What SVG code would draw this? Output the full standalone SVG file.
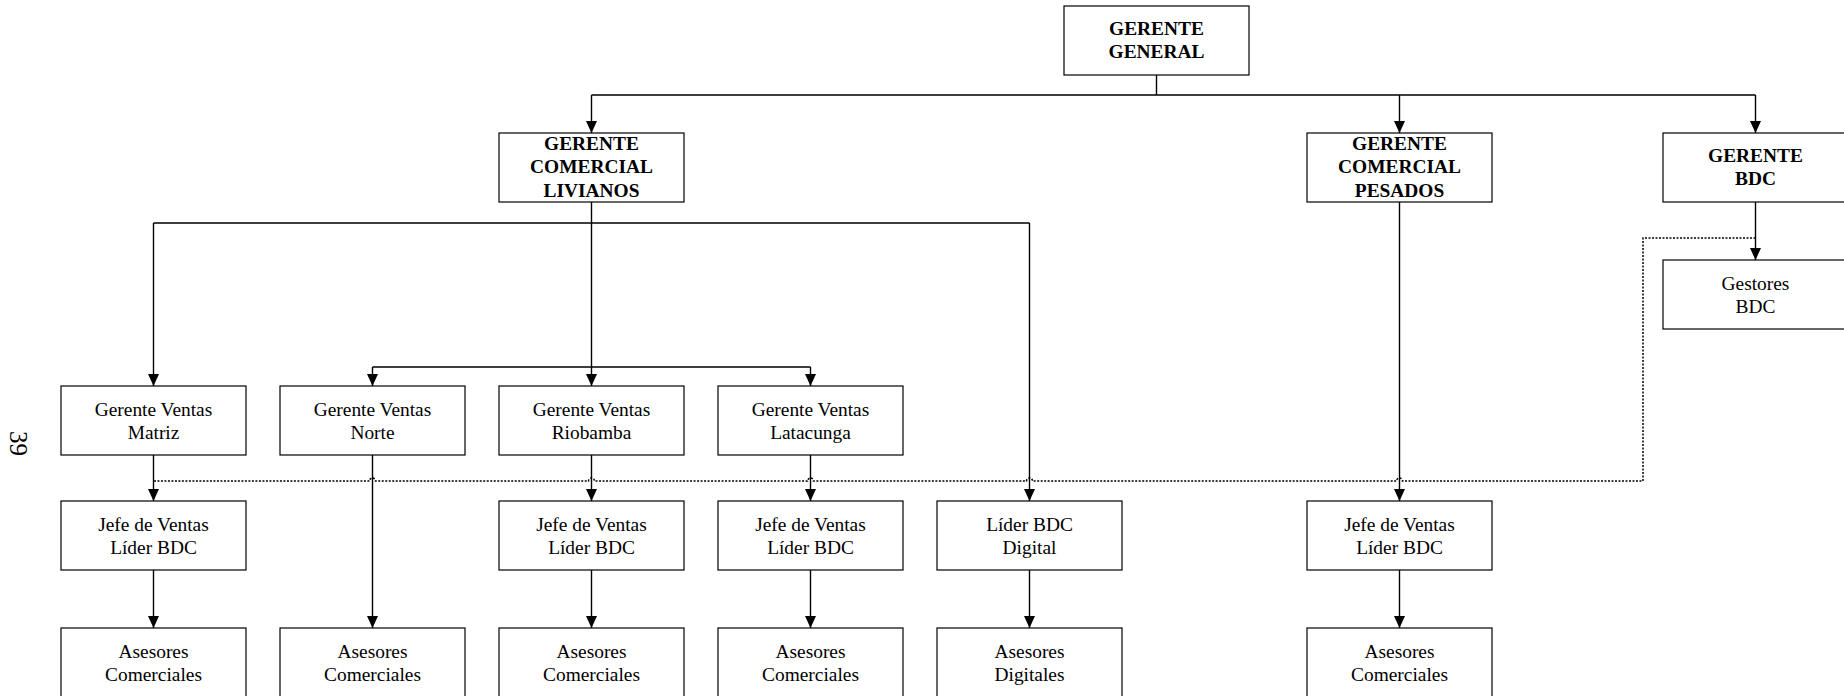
<svg xmlns="http://www.w3.org/2000/svg" width="1844" height="696" viewBox="0 0 1844 696">
  <defs>
    <marker id="arrow" markerUnits="userSpaceOnUse" markerWidth="12" markerHeight="12" refX="12" refY="6" orient="auto">
      <path d="M0,0.5 L12,6 L0,11.5 Z" fill="#000"/>
    </marker>
    <style>
      .box { fill: #fff; stroke: #000; stroke-width: 1.2; }
      .t { font-family: "Liberation Serif", "Times New Roman", serif; font-size: 19.4px; fill: #000; text-anchor: middle; }
      .b { font-weight: bold; }
      .ln { fill: none; stroke: #000; stroke-width: 1.4; }
      .arr { fill: none; stroke: #000; stroke-width: 1.4; marker-end: url(#arrow); }
      .dot { fill: none; stroke: #000; stroke-width: 1.5; stroke-dasharray: 2 1.5; }
      .pg { font-family: "Liberation Serif", "Times New Roman", serif; font-size: 25px; fill: #000; }
    </style>
  </defs>
  <rect width="1844" height="696" fill="#fff"/>

  <!-- page number -->
  <text class="pg" transform="translate(10,431) rotate(90)">39</text>

  <!-- connectors -->
  <g id="connectors">
    <!-- Gerente General to second level -->
    <path class="ln" d="M1156.5,75 V95 M591.5,95 H1755.5"/>
    <path class="arr" d="M591.5,95 V133"/>
    <path class="arr" d="M1399.5,95 V133"/>
    <path class="arr" d="M1755.5,95 V133"/>

    <!-- Gerente Comercial Livianos branch -->
    <path class="ln" d="M591.5,202 V223 M153.5,223 H1029.5 M591.5,223 V367 M372.5,367 H810.5"/>
    <path class="arr" d="M153.5,223 V386"/>
    <path class="arr" d="M1029.5,223 V501"/>
    <path class="arr" d="M372.5,367 V386"/>
    <path class="arr" d="M591.5,367 V386"/>
    <path class="arr" d="M810.5,367 V386"/>

    <!-- sales managers to team leads -->
    <path class="arr" d="M153.5,455 V501"/>
    <path class="arr" d="M372.5,455 V628"/>
    <path class="arr" d="M591.5,455 V501"/>
    <path class="arr" d="M810.5,455 V501"/>

    <!-- team leads to advisors -->
    <path class="arr" d="M153.5,570 V628"/>
    <path class="arr" d="M591.5,570 V628"/>
    <path class="arr" d="M810.5,570 V628"/>
    <path class="arr" d="M1029.5,570 V628"/>
    <path class="arr" d="M1399.5,570 V628"/>

    <!-- Pesados branch -->
    <path class="arr" d="M1399.5,202 V501"/>

    <!-- BDC branch -->
    <path class="arr" d="M1755.5,202 V260"/>

    <!-- dotted BDC coordination line with hops over crossings -->
    <path class="dot" d="M1755.5,238 H1643 V481 H1402.5 a3,3 0 0 0 -6,0 H1032.5 a3,3 0 0 0 -6,0 H813.5 a3,3 0 0 0 -6,0 H594.5 a3,3 0 0 0 -6,0 H375.5 a3,3 0 0 0 -6,0 H153.5"/>
  </g>

  <!-- top level -->
  <g id="gerente-general">
    <rect class="box" x="1064" y="6" width="185" height="69"/>
    <text class="t b" x="1156.5" y="35">GERENTE</text>
    <text class="t b" x="1156.5" y="58.3">GENERAL</text>
  </g>

  <!-- second level -->
  <g id="gerente-comercial-livianos">
    <rect class="box" x="499" y="133" width="185" height="69"/>
    <text class="t b" x="591.5" y="150">GERENTE</text>
    <text class="t b" x="591.5" y="173.3">COMERCIAL</text>
    <text class="t b" x="591.5" y="196.6">LIVIANOS</text>
  </g>
  <g id="gerente-comercial-pesados">
    <rect class="box" x="1307" y="133" width="185" height="69"/>
    <text class="t b" x="1399.5" y="150">GERENTE</text>
    <text class="t b" x="1399.5" y="173.3">COMERCIAL</text>
    <text class="t b" x="1399.5" y="196.6">PESADOS</text>
  </g>
  <g id="gerente-bdc">
    <rect class="box" x="1663" y="133" width="185" height="69"/>
    <text class="t b" x="1755.5" y="162">GERENTE</text>
    <text class="t b" x="1755.5" y="185">BDC</text>
  </g>
  <g id="gestores-bdc">
    <rect class="box" x="1663" y="260" width="185" height="69"/>
    <text class="t" x="1755.5" y="290">Gestores</text>
    <text class="t" x="1755.5" y="313">BDC</text>
  </g>

  <!-- sales managers -->
  <g id="gv-matriz">
    <rect class="box" x="61" y="386" width="185" height="69"/>
    <text class="t" x="153.5" y="415.7">Gerente Ventas</text>
    <text class="t" x="153.5" y="438.5">Matriz</text>
  </g>
  <g id="gv-norte">
    <rect class="box" x="280" y="386" width="185" height="69"/>
    <text class="t" x="372.5" y="415.7">Gerente Ventas</text>
    <text class="t" x="372.5" y="438.5">Norte</text>
  </g>
  <g id="gv-riobamba">
    <rect class="box" x="499" y="386" width="185" height="69"/>
    <text class="t" x="591.5" y="415.7">Gerente Ventas</text>
    <text class="t" x="591.5" y="438.5">Riobamba</text>
  </g>
  <g id="gv-latacunga">
    <rect class="box" x="718" y="386" width="185" height="69"/>
    <text class="t" x="810.5" y="415.7">Gerente Ventas</text>
    <text class="t" x="810.5" y="438.5">Latacunga</text>
  </g>

  <!-- team leads -->
  <g id="jefe-matriz">
    <rect class="box" x="61" y="501" width="185" height="69"/>
    <text class="t" x="153.5" y="530.7">Jefe de Ventas</text>
    <text class="t" x="153.5" y="553.5">Líder BDC</text>
  </g>
  <g id="jefe-riobamba">
    <rect class="box" x="499" y="501" width="185" height="69"/>
    <text class="t" x="591.5" y="530.7">Jefe de Ventas</text>
    <text class="t" x="591.5" y="553.5">Líder BDC</text>
  </g>
  <g id="jefe-latacunga">
    <rect class="box" x="718" y="501" width="185" height="69"/>
    <text class="t" x="810.5" y="530.7">Jefe de Ventas</text>
    <text class="t" x="810.5" y="553.5">Líder BDC</text>
  </g>
  <g id="lider-bdc-digital">
    <rect class="box" x="937" y="501" width="185" height="69"/>
    <text class="t" x="1029.5" y="530.7">Líder BDC</text>
    <text class="t" x="1029.5" y="553.5">Digital</text>
  </g>
  <g id="jefe-pesados">
    <rect class="box" x="1307" y="501" width="185" height="69"/>
    <text class="t" x="1399.5" y="530.7">Jefe de Ventas</text>
    <text class="t" x="1399.5" y="553.5">Líder BDC</text>
  </g>

  <!-- advisors -->
  <g id="asesores-matriz">
    <rect class="box" x="61" y="628" width="185" height="69"/>
    <text class="t" x="153.5" y="658">Asesores</text>
    <text class="t" x="153.5" y="681">Comerciales</text>
  </g>
  <g id="asesores-norte">
    <rect class="box" x="280" y="628" width="185" height="69"/>
    <text class="t" x="372.5" y="658">Asesores</text>
    <text class="t" x="372.5" y="681">Comerciales</text>
  </g>
  <g id="asesores-riobamba">
    <rect class="box" x="499" y="628" width="185" height="69"/>
    <text class="t" x="591.5" y="658">Asesores</text>
    <text class="t" x="591.5" y="681">Comerciales</text>
  </g>
  <g id="asesores-latacunga">
    <rect class="box" x="718" y="628" width="185" height="69"/>
    <text class="t" x="810.5" y="658">Asesores</text>
    <text class="t" x="810.5" y="681">Comerciales</text>
  </g>
  <g id="asesores-digitales">
    <rect class="box" x="937" y="628" width="185" height="69"/>
    <text class="t" x="1029.5" y="658">Asesores</text>
    <text class="t" x="1029.5" y="681">Digitales</text>
  </g>
  <g id="asesores-pesados">
    <rect class="box" x="1307" y="628" width="185" height="69"/>
    <text class="t" x="1399.5" y="658">Asesores</text>
    <text class="t" x="1399.5" y="681">Comerciales</text>
  </g>
</svg>
